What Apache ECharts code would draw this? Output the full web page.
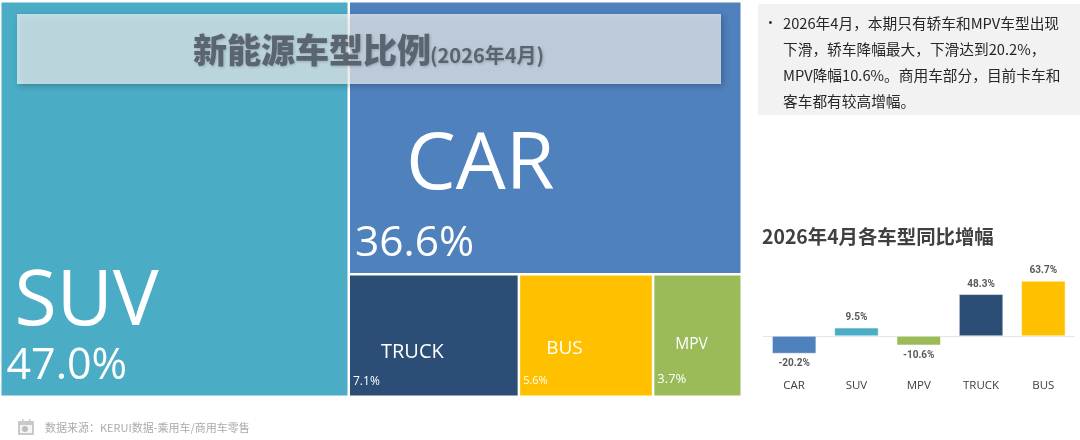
<!DOCTYPE html>
<html><head><meta charset="utf-8">
<style>html,body{margin:0;padding:0;background:#fff}#c{width:1080px;height:440px}</style>
<script src="https://cdn.jsdelivr.net/npm/echarts@6/dist/echarts.min.js"></script>
</head><body><div id="c"></div>
<script>
var shareNames = ['SUV','CAR','TRUCK','BUS','MPV'];
var shareValues = [47.0,36.6,7.1,5.6,3.7];
var growthCategories = ['CAR','SUV','MPV','TRUCK','BUS'];
var growthValues = [-20.2,9.5,-10.6,48.3,63.7];
var noteLines = ['2026年4月，本期只有轿车和MPV车型出现','下滑，轿车降幅最大，下滑达到20.2%，','MPV降幅10.6%。商用车部分，目前卡车和','客车都有较高增幅。'];
var titleMain = '新能源车型比例';
var titleSub = '(2026年4月)';
var chartTitle = '2026年4月各车型同比增幅';
var sourceText = '数据来源：KERUI数据-乘用车/商用车零售';

var colors = {SUV:'#4BACC6',CAR:'#4F81BD',TRUCK:'#2C4D75',BUS:'#FFC000',MPV:'#9BBB59'};
var labelCfg = {
  SUV:{pos:[0,255],nameSize:77,nameLH:81,pctSize:43,pctLH:47,indent:8},
  CAR:{pos:[0,113],nameSize:79,nameLH:92,pctSize:42.5,pctLH:62,indent:51},
  TRUCK:{pos:[-2,57],nameSize:20,nameLH:30,pctSize:12,pctLH:28,indent:28},
  BUS:{pos:[-2,53],nameSize:19,nameLH:30,pctSize:11,pctLH:35,indent:23},
  MPV:{pos:[-2,49],nameSize:15.5,nameLH:30,pctSize:13,pctLH:40,indent:18}
};
var font = '"Open Sans","Noto Sans",sans-serif';
var cjk = '"Noto Sans CJK SC","Noto Sans",sans-serif';

var treeData = shareNames.map(function(n,i){
  var c = labelCfg[n];
  return {
    name:n, value:shareValues[i],
    itemStyle:{color:colors[n]},
    label:{
      show:true, position:c.pos, overflow:'none', align:'left', verticalAlign:'top',
      formatter:'{n|'+n+'}\n{p|'+shareValues[i].toFixed(1)+'%}',
      rich:{
        n:{fontSize:c.nameSize,lineHeight:c.nameLH,color:'#fff',fontFamily:font,padding:[0,0,0,c.indent]},
        p:{fontSize:c.pctSize,lineHeight:c.pctLH,color:'#fff',fontFamily:font}
      }
    }
  };
});

var barData = growthValues.map(function(v,i){
  return {value:v,itemStyle:{color:colors[growthCategories[i]]}};
});

var titleShadow = {textShadowBlur:3,textShadowColor:'rgba(0,0,0,0.2)',textShadowOffsetX:1,textShadowOffsetY:1};
var graphics = [
  {type:'rect',z:100,shape:{x:17,y:14,width:704,height:70},
   style:{fill:'rgba(255,255,255,0.66)',shadowBlur:6,shadowOffsetX:2,shadowOffsetY:2,shadowColor:'rgba(0,0,0,0.35)'}},
  {type:'text',z:101,x:193,y:50,style:Object.assign({text:titleMain,fontFamily:cjk,fontWeight:900,fontSize:34,fill:'#5B6572',verticalAlign:'middle'},titleShadow)},
  {type:'text',z:101,x:430,y:55,style:Object.assign({text:titleSub,fontFamily:cjk,fontWeight:700,fontSize:20,fill:'#5B6572',verticalAlign:'middle'},titleShadow)},
  {type:'rect',z:1,shape:{x:758,y:4,width:322,height:111},style:{fill:'#F2F2F2'}},
  {type:'text',z:2,x:768,y:23,style:{text:'•',fontFamily:font,fontSize:13,fill:'#262626',verticalAlign:'middle'}},
  {type:'text',z:2,x:762,y:237,style:{text:chartTitle,fontFamily:cjk,fontWeight:700,fontSize:19.4,fill:'#404040',verticalAlign:'middle'}},
  {type:'rect',z:2,shape:{x:18,y:421,width:16,height:14},style:{fill:'#C9C9C9'}},
  {type:'rect',z:3,shape:{x:20,y:425,width:12,height:8},style:{fill:'#F4F4F4'}},
  {type:'rect',z:3,shape:{x:22,y:419,width:1.5,height:3},style:{fill:'#C9C9C9'}},
  {type:'rect',z:3,shape:{x:29,y:419,width:1.5,height:3},style:{fill:'#C9C9C9'}},
  {type:'circle',z:4,shape:{cx:25,cy:429,r:3},style:{fill:'#BDBDBD'}},
  {type:'text',z:2,x:45,y:428,style:{text:sourceText,fontFamily:cjk,fontSize:11,fill:'#ABABAB',verticalAlign:'middle'}}
];
noteLines.forEach(function(t,i){
  graphics.push({type:'text',z:2,x:783,y:23+i*26,style:{text:t,fontFamily:cjk,fontSize:14.7,fill:'#262626',verticalAlign:'middle'}});
});

var chart = echarts.init(document.getElementById('c'),null,{renderer:'canvas'});
chart.setOption({
  animation:false,
  backgroundColor:'#fff',
  grid:{left:763,top:275.5,width:311.5,height:86.5,containLabel:false},
  xAxis:{type:'category',data:growthCategories,
    axisLine:{show:false,onZero:false},axisTick:{show:false},
    axisLabel:{fontFamily:font,fontSize:11.5,color:'#404040',margin:18}},
  yAxis:{type:'value',min:-30,max:70,show:false,splitLine:{show:false}},
  series:[
    {type:'treemap',left:1,top:2,width:740,height:394,roam:false,nodeClick:false,
     breadcrumb:{show:false},
     itemStyle:{borderColor:'#fff',borderWidth:0.5,gapWidth:1},
     levels:[{itemStyle:{gapWidth:1.5,borderWidth:0}}],
     upperLabel:{show:false},
     data:treeData},
    {type:'bar',data:barData,barWidth:44,
     itemStyle:{borderColor:'#fff',borderWidth:0.5},
     label:{show:true,position:'outside',distance:5,formatter:function(p){return p.value.toFixed(1)+'%';},
       fontFamily:'"Liberation Sans Narrow","Roboto",sans-serif',fontWeight:700,fontSize:10,color:'#595959'},
     markLine:{silent:true,symbol:'none',label:{show:false},z:1,
       lineStyle:{color:'#E4E4E4',width:1,type:'solid'},data:[{yAxis:0}]}}
  ],
  graphic:graphics
});
</script></body></html>
